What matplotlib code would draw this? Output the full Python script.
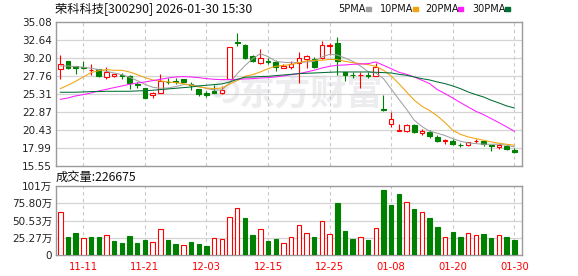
import matplotlib
matplotlib.use("Agg")
import matplotlib.pyplot as plt
import matplotlib.patches as mpatches
import numpy as np

plt.rcParams["font.family"] = ["DejaVu Sans", "Noto Sans CJK SC"]

# dados (K-line diário)
DATAS = ["11-06", "11-07", "11-10", "11-11", "11-12", "11-13", "11-14", "11-17",
         "11-18", "11-19", "11-20", "11-21", "11-24", "11-25", "11-26", "11-27",
         "11-28", "12-01", "12-02", "12-03", "12-04", "12-05", "12-08", "12-09",
         "12-10", "12-11", "12-12", "12-15", "12-16", "12-17", "12-18", "12-19",
         "12-22", "12-23", "12-24", "12-25", "12-26", "12-29", "12-30", "12-31",
         "01-05", "01-06", "01-07", "01-08", "01-09", "01-12", "01-13", "01-14",
         "01-15", "01-16", "01-19", "01-20", "01-21", "01-22", "01-23", "01-26",
         "01-27", "01-28", "01-29", "01-30"]

abertura = [28.73, 29.73, 29.10, 28.92, 28.51, 28.64, 27.55, 27.69, 27.92, 27.69,
            26.60, 26.10, 25.15, 25.47, 26.97, 27.01, 27.28, 26.65, 25.92, 25.47,
            25.70, 25.38, 27.28, 32.36, 31.91, 30.46, 29.55, 29.82, 29.64, 28.82,
            28.91, 29.55, 30.00, 30.09, 30.18, 31.86, 32.22, 28.24, 27.88, 27.80,
            27.83, 27.78, 23.25, 21.16, 20.26, 20.30, 21.07, 19.99, 20.12, 19.40,
            18.90, 18.94, 18.40, 18.31, 18.85, 18.94, 18.31, 18.08, 18.22, 17.72]
maxima = [30.59, 29.78, 29.10, 29.78, 29.37, 28.73, 28.92, 28.05, 28.19, 27.83,
          26.92, 26.15, 25.56, 28.01, 27.51, 27.51, 27.33, 26.92, 26.01, 25.65,
          26.47, 26.38, 31.68, 33.58, 32.09, 30.64, 31.36, 30.18, 29.87, 29.37,
          29.73, 31.00, 30.64, 30.37, 32.45, 32.27, 33.04, 28.28, 28.28, 28.28,
          28.28, 29.55, 25.10, 22.84, 21.16, 21.21, 21.16, 20.48, 20.35, 19.67,
          19.21, 19.12, 18.58, 18.76, 19.12, 19.03, 18.40, 18.49, 18.40, 17.95]
minima = [27.37, 28.73, 28.01, 28.73, 27.92, 27.55, 27.37, 27.65, 27.37, 26.01,
          26.15, 24.74, 24.79, 25.47, 26.65, 26.69, 26.87, 25.88, 25.06, 24.88,
          25.38, 25.33, 27.28, 31.77, 30.09, 29.64, 29.37, 29.32, 28.46, 28.78,
          28.73, 26.78, 28.82, 28.87, 30.09, 30.55, 27.92, 27.10, 27.51, 26.10,
          27.51, 27.78, 23.02, 20.76, 20.26, 20.17, 20.03, 19.76, 19.26, 18.76,
          18.53, 18.35, 18.08, 18.26, 18.58, 18.22, 17.58, 17.76, 17.67, 17.31]
fechamento = [29.32, 28.87, 28.78, 28.82, 28.60, 27.78, 28.28, 28.01, 27.69, 26.78,
              26.47, 24.79, 25.42, 27.10, 26.90, 26.85, 26.92, 26.56, 25.33, 25.11,
              25.47, 25.83, 31.68, 32.22, 30.18, 29.78, 30.18, 29.69, 28.96, 29.14,
              29.41, 30.18, 30.46, 29.01, 31.91, 32.00, 29.78, 27.92, 27.80, 27.88,
              27.69, 28.92, 23.07, 21.93, 20.35, 21.03, 20.17, 20.21, 19.53, 18.94,
              18.99, 18.44, 18.31, 18.72, 18.94, 18.53, 18.22, 18.40, 17.81, 17.45]

# volume em 万手
volume = [63.4, 26.7, 32.7, 24.8, 27.0, 27.0, 29.2, 20.8, 17.8, 28.2,
          17.8, 22.3, 19.3, 38.1, 22.3, 16.3, 14.4, 19.3, 16.3, 13.4,
          24.8, 23.3, 55.9, 69.3, 53.5, 29.7, 38.1, 20.8, 23.8, 17.3,
          26.7, 44.1, 32.7, 26.7, 50.5, 31.2, 76.2, 35.6, 22.8, 26.2,
          21.3, 39.6, 95.5, 73.3, 89.6, 78.2, 66.8, 62.4, 53.5, 41.6,
          26.7, 34.2, 26.7, 32.7, 29.7, 31.2, 25.2, 29.7, 26.7, 22.67]

ma5 = [29.10, 29.10, 29.01, 28.92, 28.78, 28.60, 28.37, 28.14, 27.92, 27.56, 27.10, 26.60,
       26.20, 26.06, 26.10, 26.29, 26.56, 26.56, 26.33, 26.01, 25.83, 25.83, 26.78, 28.05,
       29.14, 30.09, 30.77, 30.37, 29.73, 29.60, 29.55, 29.55, 29.64, 29.73, 30.32, 30.68,
       30.59, 30.18, 29.73, 29.10, 28.33, 28.14, 27.37, 25.97, 24.56, 23.20, 21.71, 20.85,
       20.21, 19.94, 19.62, 19.21, 18.85, 18.62, 18.53, 18.44, 18.44, 18.44, 18.31, 18.08]
ma10 = [26.01, 26.47, 27.01, 27.60, 28.19, 28.46, 28.60, 28.51, 28.51, 28.28, 27.92, 27.51,
        27.19, 27.06, 26.92, 26.83, 26.69, 26.47, 26.24, 26.10, 26.01, 26.10, 26.65, 27.10,
        27.69, 27.92, 28.28, 28.73, 29.05, 29.19, 29.28, 29.55, 29.78, 29.87, 29.87, 30.00,
        29.96, 29.73, 29.55, 29.41, 29.28, 29.05, 28.51, 27.74, 26.69, 25.56, 24.43, 23.61,
        23.02, 22.30, 21.39, 20.35, 19.80, 19.44, 19.21, 18.99, 18.76, 18.58, 18.44, 18.31]
ma20 = [24.56, 24.74, 25.02, 25.20, 25.42, 25.70, 25.92, 26.15, 26.38, 26.60, 26.78, 26.92,
        27.10, 27.28, 27.46, 27.60, 27.65, 27.60, 27.51, 27.37, 27.28, 27.24, 27.24, 27.28,
        27.33, 27.37, 27.46, 27.51, 27.60, 27.74, 27.92, 28.05, 28.28, 28.51, 28.82, 29.05,
        29.19, 29.23, 29.32, 29.37, 29.41, 29.64, 29.19, 28.73, 28.24, 27.96, 27.60, 27.15,
        26.69, 25.88, 25.33, 24.74, 24.11, 23.52, 22.93, 22.48, 21.93, 21.39, 20.80, 20.21]
ma30 = [25.52, 25.52, 25.52, 25.56, 25.61, 25.61, 25.65, 25.65, 25.65, 25.65, 25.70, 25.74,
        25.79, 25.88, 25.97, 26.06, 26.15, 26.24, 26.38, 26.47, 26.56, 26.65, 26.92, 27.28,
        27.56, 27.60, 27.65, 27.69, 27.78, 27.87, 27.96, 28.05, 28.10, 28.14, 28.19, 28.24,
        28.28, 28.28, 28.28, 28.28, 28.28, 28.24, 28.19, 28.14, 27.96, 27.83, 27.60, 27.37,
        27.19, 26.92, 26.69, 26.38, 26.01, 25.56, 25.20, 24.88, 24.43, 24.06, 23.66, 23.38]

PRECO_TICKS = [15.55, 17.99, 20.43, 22.87, 25.31, 27.76, 30.20, 32.64, 35.08]
PRECO_LABELS = ["15.55", "17.99", "20.43", "22.87", "25.31", "27.76", "30.20", "32.64", "35.08"]
VOL_TICKS = [0, 25.27, 50.53, 75.80, 101.08]
VOL_LABELS = ["0", "25.27万", "50.53万", "75.80万", "101万"]

MA_NOMES = ["5PMA", "10PMA", "20PMA", "30PMA"]
MA_CORES = ["#a0a0a0", "#f0a30a", "#ff1dff", "#006e34"]

VERMELHO = "#ff0000"
VERDE = "#008000"
GRADE = "#d4d4d4"
BORDA = "#9a9a9a"

W, H = 578, 276


def fx(px):
    return px / W


def fy(py):
    return 1 - py / H


fig = plt.figure(figsize=(W / 100, H / 100), dpi=100)
fig.patch.set_facecolor("white")
ax = fig.add_axes([fx(55.5), fy(165.5), (522 - 55.5) / W, (165.5 - 22) / H])
axv = fig.add_axes([fx(55.5), fy(255), (522 - 55.5) / W, (255 - 186) / H])

o = np.array(abertura)
c = np.array(fechamento)
hi = np.array(maxima)
lo = np.array(minima)
x = np.arange(len(o))
xt = x[3::8]

for a in (ax, axv):
    a.set_xlim(-0.62, 60.0)
    for s in a.spines.values():
        s.set_edgecolor(BORDA)
        s.set_linewidth(1.0)
    for xv in xt:
        a.axvline(xv, color="#c8c8c8", lw=0.8, ls=(0, (3, 3)), zorder=1)

# painel de preços
ax.set_ylim(PRECO_TICKS[0], PRECO_TICKS[-1])
for yv in PRECO_TICKS[1:-1]:
    ax.axhline(yv, color=GRADE, lw=0.9, zorder=1)
ax.set_yticks(PRECO_TICKS)
ax.set_yticklabels(PRECO_LABELS, fontsize=7.5, color="#222")
ax.tick_params(axis="y", length=0, pad=2.5)
ax.set_xticks([])

# marca d'água
ax.text(0.548, 0.50, "东方财富", transform=ax.transAxes, fontsize=26,
        fontweight="bold", color="#ededf0", ha="center", va="center",
        family=["Noto Sans CJK SC"], zorder=0)
ax.text(0.36, 0.50, "の", transform=ax.transAxes, fontsize=22,
        fontweight="bold", color="#ededf0", ha="center", va="center",
        family=["Noto Sans CJK SC"], zorder=0, rotation=-20)

subiu = c >= o
cor = np.where(subiu, VERMELHO, VERDE)
ax.vlines(x, lo, hi, colors=cor, lw=0.8, zorder=3)
base = np.minimum(o, c)
alt = np.maximum(np.abs(c - o), 0.05)
ax.bar(x, alt, bottom=base, width=0.6, color=np.where(subiu, "white", VERDE),
       edgecolor=cor, linewidth=0.8, zorder=4)

for serie, cr in zip([ma5, ma10, ma20, ma30], MA_CORES):
    ax.plot(x, serie, color=cr, lw=0.75, zorder=5)

# painel de volume
prev = np.concatenate([[c[0] - 1], c[:-1]])
vsubiu = c >= prev
vcor = np.where(vsubiu, VERMELHO, VERDE)
axv.set_ylim(0, VOL_TICKS[-1])
for yv in VOL_TICKS[1:-1]:
    axv.axhline(yv, color=GRADE, lw=0.9, zorder=1)
axv.bar(x, volume, width=0.58, color=np.where(vsubiu, "white", VERDE),
        edgecolor=vcor, linewidth=0.8, zorder=3)
axv.set_yticks(VOL_TICKS)
axv.set_yticklabels(VOL_LABELS, fontsize=7.5, color="#222")
axv.tick_params(axis="y", length=0, pad=2.5)
axv.set_xticks(xt)
axv.set_xticklabels([DATAS[i] for i in xt], fontsize=7.2, color=VERMELHO)
axv.tick_params(axis="x", length=0, pad=5)

# textos do topo
fig.text(fx(55), fy(8.5), "荣科科技[300290] 2026-01-30 15:30", fontsize=8.8,
         family=["Noto Sans CJK SC"], color="#111", ha="left", va="center")
fig.text(fx(56), fy(177), "成交量:226675", fontsize=8.8,
         family=["Noto Sans CJK SC"], color="#111", ha="left", va="center")

leg_x = [338, 380, 425, 472]
for nome, cr, lx in zip(MA_NOMES, MA_CORES, leg_x):
    fig.text(fx(lx), fy(9), nome, fontsize=7, color="#111",
             ha="left", va="center")
    larg = 24 if len(nome) == 4 else 29
    fig.patches.append(mpatches.Rectangle((fx(lx + larg + 4), fy(10.5)), 5 / W, 3.5 / H,
                                          transform=fig.transFigure, color=cr))

fig.savefig("out.png", dpi=100)
